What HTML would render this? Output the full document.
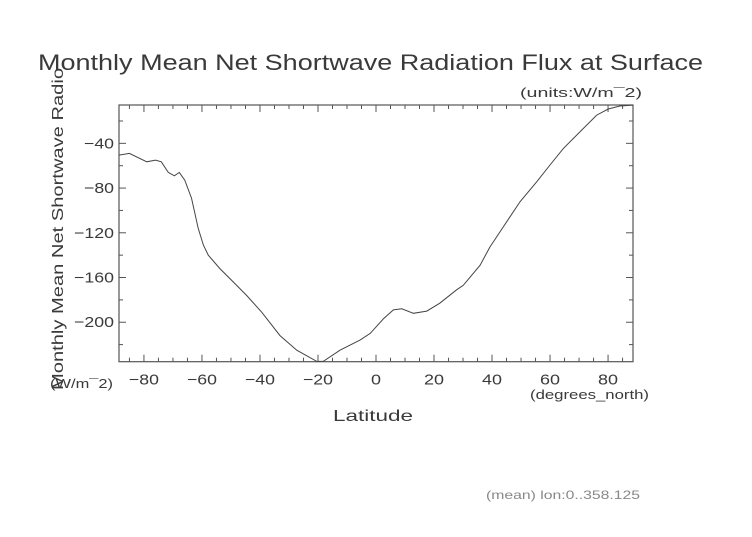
<!DOCTYPE html>
<html><head><meta charset="utf-8"><style>
html,body{margin:0;padding:0;background:#fff;}
svg text{font-family:"Liberation Sans",sans-serif;fill:#3a3a3a;}
</style></head><body>
<svg width="752" height="532" viewBox="0 0 752 532">
<text x="38" y="70" font-size="22" textLength="665" lengthAdjust="spacingAndGlyphs">Monthly Mean Net Shortwave Radiation Flux at Surface</text>
<text x="520" y="97" font-size="13" textLength="122" lengthAdjust="spacingAndGlyphs">(units:W/m¯2)</text>
<text transform="translate(63,390) rotate(-90)" font-size="16" textLength="322" lengthAdjust="spacingAndGlyphs">Monthly Mean Net Shortwave Radio</text>
<text x="50" y="388" font-size="13" textLength="63" lengthAdjust="spacingAndGlyphs">(W/m¯2)</text>
<text x="530" y="399" font-size="13" textLength="119" lengthAdjust="spacingAndGlyphs">(degrees_north)</text>
<text x="333" y="421" font-size="16" textLength="80" lengthAdjust="spacingAndGlyphs">Latitude</text>
<text x="486" y="499" font-size="12" textLength="154" lengthAdjust="spacingAndGlyphs" style="fill:#888">(mean) lon:0..358.125</text>
<g id="plot"></g>
</svg>
<script>
const lats=[-88.6,-85,-79,-76,-74,-71.6,-69.5,-67.8,-65.9,-63.6,-61.3,-59.5,-57.8,-53.8,-49.2,-44.6,-39.4,-33.1,-27.3,-20.4,-18.2,-12.4,-5.5,-2,2.5,6,8.9,12.9,17.5,22,27.8,30.1,35.9,39.3,43.9,49.7,55.4,60,64.6,71.5,76.1,80.1,84.1,88.6];
const vals=[-50.5,-49,-56.5,-55,-56.5,-66,-69,-66,-73,-89,-116,-131,-140,-152,-164,-176,-191,-212,-225,-235,-235,-225,-216,-210,-197,-189,-188,-192,-190,-183,-171,-167,-149,-132.6,-114.7,-92,-74.4,-59.4,-44.5,-26.6,-14.7,-9.3,-6.6,-5.8];
const xTicks=[-80,-60,-40,-20,0,20,40,60,80];
const yTicks=[-40,-80,-120,-160,-200];
const X0=119,X1=633,Y0=105,Y1=361.7,XMIN=-88.6,XMAX=88.6,YMAX=-5.7,YMIN=-235.3;
const sx=v=>X0+(v-XMIN)/(XMAX-XMIN)*(X1-X0);
const sy=v=>Y0+(YMAX-v)/(YMAX-YMIN)*(Y1-Y0);
const NS='http://www.w3.org/2000/svg';
const g=document.getElementById('plot');
function mk(t,a){const e=document.createElementNS(NS,t);for(const k in a)e.setAttribute(k,a[k]);g.appendChild(e);return e;}
const fr=mk('rect',{x:X0,y:Y0,width:X1-X0,height:Y1-Y0,fill:'none',stroke:'#555','stroke-width':1.2});


for(let v=-85;v<=85;v+=5){const big=v%20===0;const l=big?7:4;
 const t1=mk('line',{x1:sx(v),x2:sx(v),y1:Y1,y2:Y1-l,stroke:'#555'});
 
 
 const t2=mk('line',{x1:sx(v),x2:sx(v),y1:Y0,y2:Y0+l,stroke:'#555'});
 
 }
for(let v=-220;v<=-20;v+=20){const big=v%40===0;const l=big?7:4;
 const t1=mk('line',{x1:X0,x2:X0+l,y1:sy(v),y2:sy(v),stroke:'#555'});
 
 
 const t2=mk('line',{x1:X1,x2:X1-l,y1:sy(v),y2:sy(v),stroke:'#555'});
 
 }
xTicks.forEach(v=>{const s=String(v).replace('-','−');const t=mk('text',{x:sx(v),y:Y1+23,'font-size':15,'text-anchor':'middle',textLength:s.length*10,lengthAdjust:'spacingAndGlyphs'});t.textContent=s;
 
 });
yTicks.forEach(v=>{const s=String(v).replace('-','−');const t=mk('text',{x:X0-5,y:sy(v)+5,'font-size':15,'text-anchor':'end',textLength:s.length*10,lengthAdjust:'spacingAndGlyphs'});t.textContent=s;
 
 });
const d=lats.map((v,i)=>(i?'L':'M')+sx(v).toFixed(1)+' '+sy(vals[i]).toFixed(1)).join(' ');
const p=mk('path',{d:d,fill:'none',stroke:'#444','stroke-width':1});


</script>
</body></html>
